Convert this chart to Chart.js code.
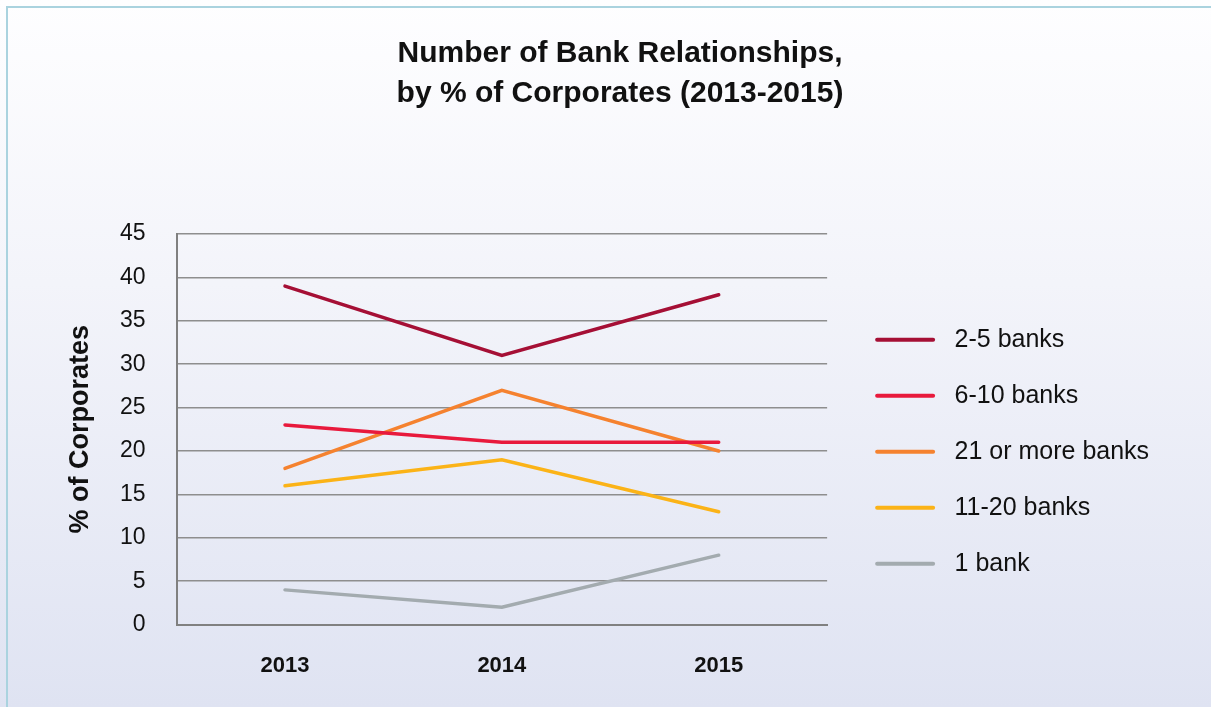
<!DOCTYPE html>
<html>
<head>
<meta charset="utf-8">
<script src="https://cdn.jsdelivr.net/npm/chart.js@4/dist/chart.umd.min.js"></script>
<style>
  html, body { margin: 0; padding: 0; width: 1211px; height: 707px; overflow: hidden; }
  body { position: relative; background: linear-gradient(to bottom, #fefeff 0%, #f3f4fa 40%, #dfe3f2 100%); }
  #frame { position: absolute; left: 6px; top: 6px; right: -10px; bottom: -10px;
           border-top: 2px solid #aad3df; border-left: 2px solid #aad3df; }
  #c { position: absolute; left: 0; top: 0; }
</style>
</head>
<body>
<div id="frame"></div>
<canvas id="c" width="1211" height="707"></canvas>
<script>
// Survey years on the category axis
const years = ['2013', '2014', '2015'];

// Share of corporates (%) by number of bank relationships
const seriesNames = ['2-5 banks', '6-10 banks', '21 or more banks', '11-20 banks', '1 bank'];
const banks2to5   = [39, 31, 38];
const banks6to10  = [23, 21, 21];
const banks21plus = [18, 27, 20];
const banks11to20 = [16, 19, 13];
const bank1       = [4, 2, 8];

// Value axis range and step
const yMin = 0;
const yMax = 45;
const yStep = 5;

const seriesValues = [banks2to5, banks6to10, banks21plus, banks11to20, bank1];
const seriesColors = ['#a50f35', '#e8193c', '#f5822f', '#fbb317', '#a3abaf'];

const FONT = "'Liberation Sans', Arial, Helvetica, sans-serif";
const INK = '#111111';

const datasets = seriesNames.map((name, i) => ({
  label: name,
  data: seriesValues[i],
  borderColor: seriesColors[i],
  backgroundColor: seriesColors[i],
  borderWidth: 3.5,
  borderCapStyle: 'round',
  pointRadius: 0,
  pointHoverRadius: 0,
  tension: 0
}));

new Chart(document.getElementById('c'), {
  type: 'line',
  data: { labels: years, datasets },
  options: {
    responsive: false,
    devicePixelRatio: 1,
    animation: false,
    events: [],
    layout: { padding: { left: 67, right: 38, top: 0, bottom: 0 } },
    plugins: {
      title: {
        display: true,
        text: ['Number of Bank Relationships,', 'by % of Corporates (2013-2015)'],
        color: INK,
        font: { family: FONT, size: 30, weight: 'bold', lineHeight: 40 / 30 },
        padding: { top: 34, bottom: 120 }
      },
      legend: {
        position: 'right',
        fullSize: false,
        align: 'center',
        maxWidth: 420,
        title: { display: true, text: ' ', font: { size: 15, lineHeight: 1 }, padding: 15 },
        labels: {
          boxWidth: 60,
          boxHeight: 4,
          padding: 31,
          color: INK,
          font: { family: FONT, size: 25 },
          generateLabels(chart) {
            const items = Chart.defaults.plugins.legend.labels.generateLabels(chart);
            items.forEach(it => {
              it.lineWidth = 0;
              it.borderRadius = 2;
              it.text = ' ' + it.text + '  ';
            });
            return items;
          }
        }
      },
      tooltip: { enabled: false }
    },
    scales: {
      x: {
        offset: true,
        grid: { display: false, drawTicks: false },
        border: { display: true, color: '#808080', width: 2 },
        ticks: { color: INK, padding: 28, font: { family: FONT, size: 22, weight: 'bold' } }
      },
      y: {
        min: yMin,
        max: yMax,
        grid: { color: '#8e8e8e', lineWidth: 1.5, drawTicks: false },
        border: { display: true, color: '#808080', width: 2 },
        ticks: { stepSize: yStep, color: INK, padding: 31, font: { family: FONT, size: 23 } },
        title: {
          display: true,
          text: '% of Corporates',
          color: INK,
          font: { family: FONT, size: 27, weight: 'bold', lineHeight: 1 },
          padding: { top: 0, bottom: -5 }
        }
      },
      // spacer column between the plot and the legend
      gap: {
        type: 'linear',
        position: 'right',
        display: true,
        grid: { display: false, drawTicks: false },
        border: { display: false },
        ticks: { display: false },
        afterFit(scale) { scale.width = 17; }
      }
    }
  }
});
</script>
</body>
</html>
